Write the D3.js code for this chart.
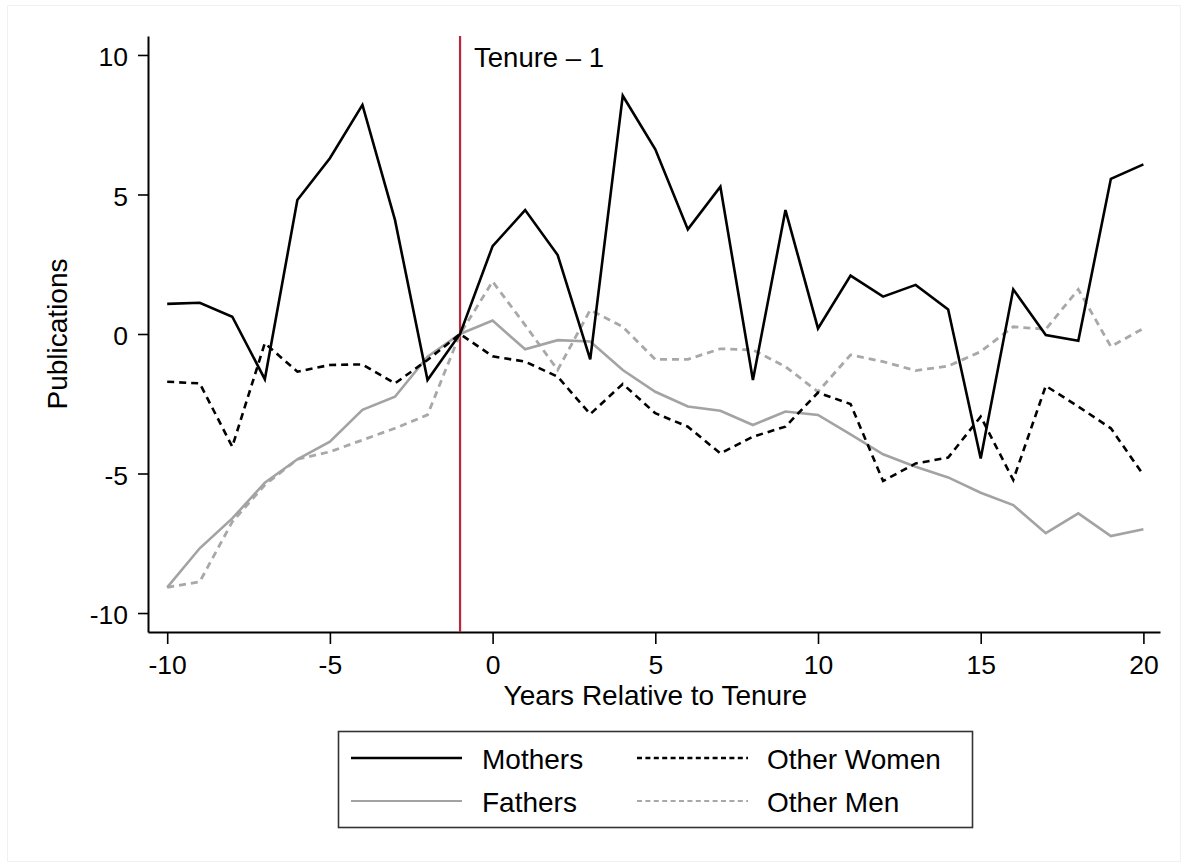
<!DOCTYPE html>
<html>
<head>
<meta charset="utf-8">
<script src="https://cdn.jsdelivr.net/npm/d3@7"></script>
<style>
  html, body { margin: 0; padding: 0; background: #fff; }
  svg text { font-family: "Liberation Sans", Arial, Helvetica, sans-serif; fill: #000; }
</style>
</head>
<body>
<svg id="chart" width="1188" height="867"></svg>
<script>
// Publications relative to the year of tenure, by group
const years = [-10, -9, -8, -7, -6, -5, -4, -3, -2, -1, 0, 1, 2, 3, 4, 5, 6, 7, 8, 9, 10,
               11, 12, 13, 14, 15, 16, 17, 18, 19, 20];

const mothers = [1.08, 1.12, 0.62, -1.62, 4.8, 6.3, 8.21, 4.09, -1.65, 0, 3.15, 4.44, 2.83, -0.91,
                 8.54, 6.62, 3.75, 5.28, -1.65, 4.44, 0.2, 2.09, 1.34, 1.76, 0.88, -4.46, 1.6,
                 -0.04, -0.24, 5.56, 6.08];

const otherWomen = [-1.71, -1.77, -4.04, -0.33, -1.35, -1.11, -1.09, -1.77, -0.93, 0, -0.8, -0.99,
                    -1.53, -2.87, -1.79, -2.84, -3.32, -4.28, -3.68, -3.32, -2.1, -2.51, -5.27,
                    -4.64, -4.43, -2.96, -5.23, -1.86, -2.6, -3.38, -5.05];

const fathers = [-9.08, -7.68, -6.61, -5.33, -4.49, -3.86, -2.72, -2.25, -0.81, 0, 0.48, -0.55,
                 -0.22, -0.27, -1.29, -2.07, -2.6, -2.75, -3.26, -2.78, -2.9, -3.6, -4.31, -4.76,
                 -5.14, -5.69, -6.13, -7.14, -6.43, -7.24, -7.0];

const otherMen = [-9.08, -8.88, -6.73, -5.41, -4.49, -4.22, -3.8, -3.38, -2.9, 0, 1.88, 0.32,
                  -1.29, 0.86, 0.26, -0.91, -0.91, -0.53, -0.57, -1.17, -2.07, -0.75, -0.99,
                  -1.31, -1.15, -0.63, 0.26, 0.17, 1.6, -0.45, 0.2];

const xTicks = [-10, -5, 0, 5, 10, 15, 20];
const yTicks = [-10, -5, 0, 5, 10];
const tenureMarker = -1;
const tenureLabel = "Tenure \u2013 1";

const series = [
  { name: "Mothers",     values: mothers,    color: "#000000", dash: null,  width: 2.6 },
  { name: "Fathers",     values: fathers,    color: "#a3a3a3", dash: null,  width: 2.6 },
  { name: "Other Women", values: otherWomen, color: "#000000", dash: "7,5", width: 2.6 },
  { name: "Other Men",   values: otherMen,   color: "#a8a8a8", dash: "7,5", width: 2.8 }
];

const svg = d3.select("#chart");

// faint outer frame of the graph region
svg.append("rect")
  .attr("x", 7.5).attr("y", 5.5).attr("width", 1173).attr("height", 856)
  .attr("fill", "none").attr("stroke", "#eef2f4").attr("stroke-width", 1);

const x = d3.scaleLinear().domain([-10.59, 20.51]).range([148, 1160]);
const y = d3.scaleLinear().domain([-10.68, 10.68]).range([632, 36]);

// axes
const xAxis = svg.append("g")
  .attr("transform", `translate(0,${y.range()[0]})`)
  .call(d3.axisBottom(x).tickValues(xTicks).tickFormat(d => String(d))
        .tickSize(12).tickSizeOuter(0).tickPadding(10));
const yAxis = svg.append("g")
  .attr("transform", `translate(${x.range()[0]},0)`)
  .call(d3.axisLeft(y).tickValues(yTicks).tickFormat(d => String(d))
        .tickSize(10).tickSizeOuter(0).tickPadding(10));

[xAxis, yAxis].forEach(g => {
  g.selectAll("path.domain").attr("stroke", "#000").attr("stroke-width", 2);
  g.selectAll(".tick line").attr("stroke", "#000").attr("stroke-width", 1.6);
  g.selectAll(".tick text").attr("font-size", 26.5).attr("fill", "#000")
    .style("font-family", '"Liberation Sans", Arial, Helvetica, sans-serif');
});
xAxis.selectAll(".tick text").attr("dy", "0.74em");
yAxis.selectAll(".tick text").attr("dy", "0.4em");

// axis titles
svg.append("text")
  .attr("x", x(5)).attr("y", 705)
  .attr("text-anchor", "middle").attr("font-size", 28)
  .text("Years Relative to Tenure");
svg.append("text")
  .attr("transform", `translate(67,${(y.range()[0] + y.range()[1]) / 2}) rotate(-90)`)
  .attr("text-anchor", "middle").attr("font-size", 28)
  .text("Publications");

// tenure reference line
svg.append("line")
  .attr("x1", x(tenureMarker)).attr("x2", x(tenureMarker))
  .attr("y1", y.range()[1]).attr("y2", y.range()[0])
  .attr("stroke", "#b8283d").attr("stroke-width", 2.2);
svg.append("text")
  .attr("x", x(tenureMarker) + 14).attr("y", 67)
  .attr("font-size", 27.5)
  .text(tenureLabel);

// series lines (drawn back to front)
const line = d3.line().x((d, i) => x(years[i])).y(d => y(d));
const drawOrder = ["Other Men", "Fathers", "Other Women", "Mothers"];
drawOrder.forEach(name => {
  const s = series.find(t => t.name === name);
  svg.append("path")
    .datum(s.values)
    .attr("d", line)
    .attr("fill", "none")
    .attr("stroke", s.color)
    .attr("stroke-width", s.width)
    .attr("stroke-dasharray", s.dash)
    .attr("stroke-linejoin", "miter");
});

// legend
const legend = svg.append("g");
legend.append("rect")
  .attr("x", 338.5).attr("y", 731.5).attr("width", 634).attr("height", 96)
  .attr("fill", "#fff").attr("stroke", "#333").attr("stroke-width", 1.6);

const legendItems = [
  { s: series[0], lx: 351, tx: 482, ly: 758 },
  { s: series[1], lx: 351, tx: 482, ly: 801 },
  { s: series[2], lx: 637, tx: 767, ly: 758 },
  { s: series[3], lx: 637, tx: 767, ly: 801 }
];
legendItems.forEach(it => {
  legend.append("line")
    .attr("x1", it.lx).attr("x2", it.lx + 111)
    .attr("y1", it.ly).attr("y2", it.ly)
    .attr("stroke", it.s.color)
    .attr("stroke-width", it.s.color === "#000000" ? 2.4 : 2.2)
    .attr("stroke-dasharray", it.s.dash ? "5,3.4" : null);
  legend.append("text")
    .attr("x", it.tx).attr("y", it.ly + 11)
    .attr("font-size", 28)
    .text(it.s.name);
});
</script>
</body>
</html>
